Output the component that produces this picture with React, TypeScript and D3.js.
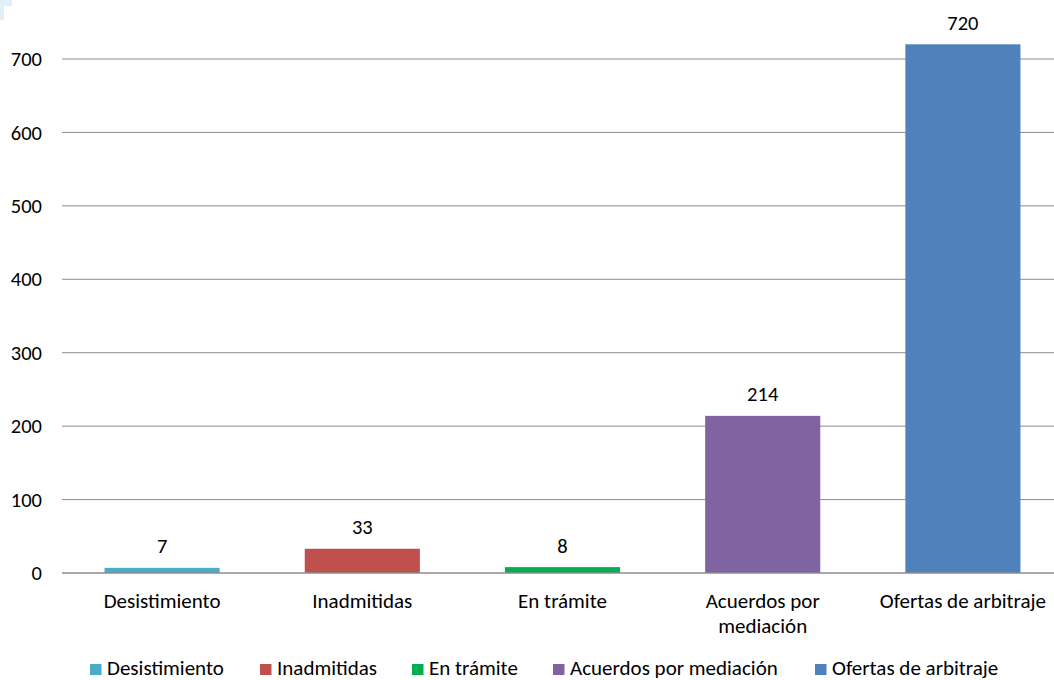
import React from "react";
import * as d3 from "d3";

const categories = ["Desistimiento", "Inadmitidas", "En trámite", "Acuerdos por mediación", "Ofertas de arbitraje"];
const categoryLines = [["Desistimiento"], ["Inadmitidas"], ["En trámite"], ["Acuerdos por", "mediación"], ["Ofertas de arbitraje"]];
const values = [7, 33, 8, 214, 720];
const colors = ["#4BACC6", "#C0504D", "#00B050", "#8064A2", "#4F81BD"];
const yTicks = [0, 100, 200, 300, 400, 500, 600, 700];
const legendX = [90, 260, 412, 553, 815];

const W = 1054, H = 680;
const FONT = "Carlito, Calibri, Lato, sans-serif";

export default function App() {
  const x = d3.scaleBand<string>().domain(categories).range([62, 1063]).paddingInner(0.425).paddingOuter(0.2125);
  const y = d3.scaleLinear().domain([0, 700]).range([573, 59]);
  return (
    <svg width={W} height={H} style={{ position: "absolute", left: 0, top: 0 }} fontFamily={FONT}>
      <rect width={W} height={H} fill="#fff" />
      <path d="M0,0 H12 V6 H4 V20 H0 Z" fill="#dff0fa" />
      {yTicks.map((t) => (
        <g key={t}>
          {t > 0 && <line x1={62} x2={W} y1={y(t)} y2={y(t)} stroke="#8c8c8c" strokeWidth={1} />}
          <text x={42} y={y(t)} dy="0.35em" textAnchor="end" fontSize={20.5} fill="#000">{t}</text>
        </g>
      ))}
      {categories.map((c, i) => (
        <g key={c}>
          <rect x={x(c)!} width={x.bandwidth()} y={y(values[i])} height={y(0) - y(values[i])} fill={colors[i]} />
          <text x={x(c)! + x.bandwidth() / 2} y={y(values[i]) - 14.5} textAnchor="middle" fontSize={20.5} fill="#000">{values[i]}</text>
          {categoryLines[i].map((l, j) => (
            <text key={j} x={x(c)! + x.bandwidth() / 2} y={608 + j * 25} textAnchor="middle" fontSize={21} fill="#000">{l}</text>
          ))}
        </g>
      ))}
      <line x1={62} x2={W} y1={y(0)} y2={y(0)} stroke="#8c8c8c" strokeWidth={1.5} />
      {categories.map((c, i) => (
        <g key={"lg" + c}>
          <rect x={legendX[i]} y={664} width={11.5} height={11} fill={colors[i]} />
          <text x={legendX[i] + 17} y={675} fontSize={21} fill="#000">{c}</text>
        </g>
      ))}
    </svg>
  );
}
